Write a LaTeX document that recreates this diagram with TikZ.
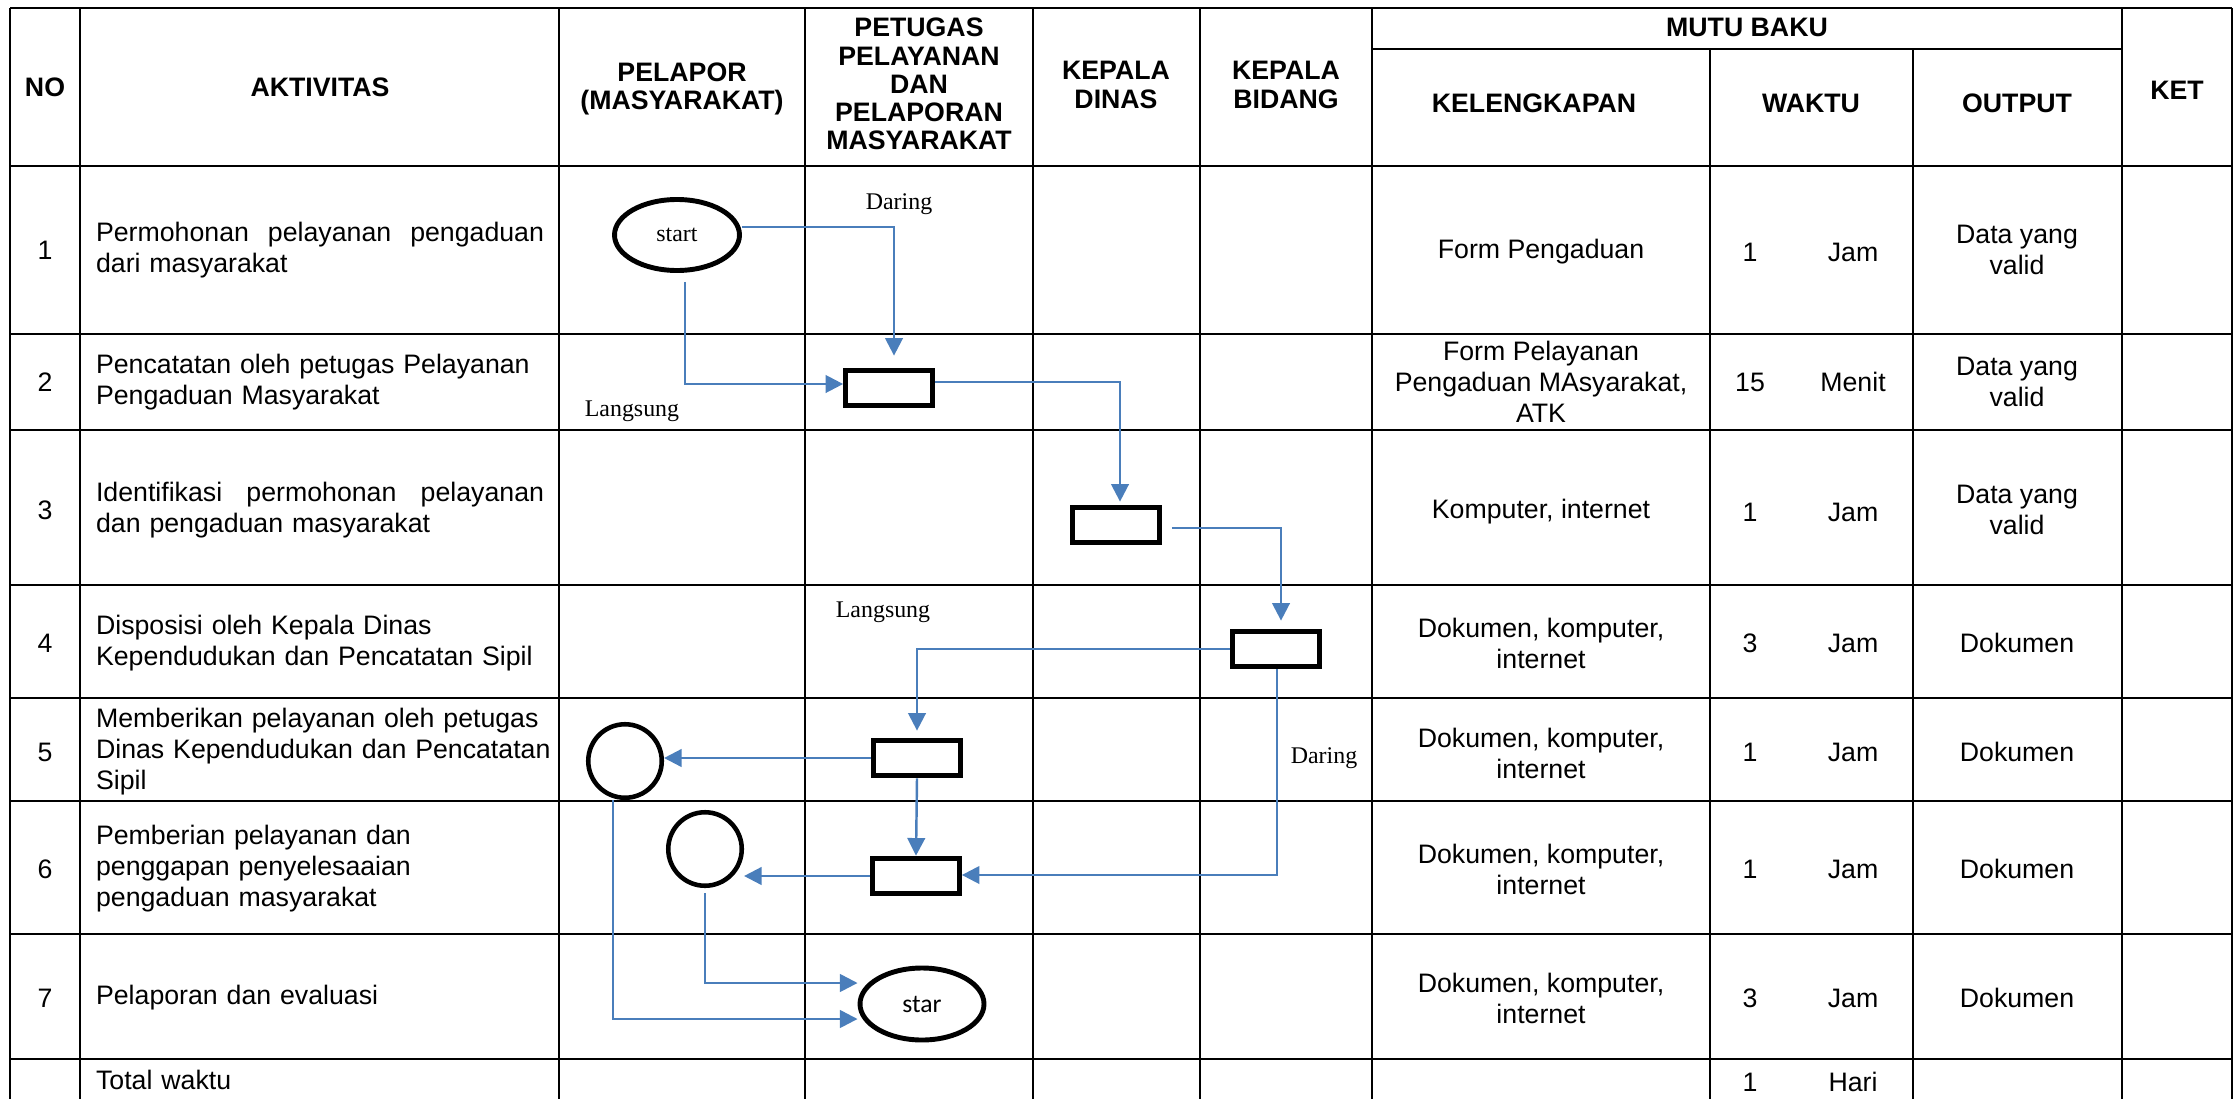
\documentclass[tikz,border=0pt]{standalone}
\usepackage{fontspec}
\setmainfont{Liberation Sans}
\newfontfamily\serifface{Liberation Serif}
\newfontfamily\calibface{Carlito}
\usepackage{tikz}
\usetikzlibrary{positioning, shapes, arrows.meta, calc}

\definecolor{flowblue}{RGB}{74,126,187}

\begin{document}
\begin{tikzpicture}[x=0.1mm, y=-0.1mm, ->, >={Triangle[length=5pt,width=5pt]}, semithick,
  grid/.style={-, draw=black, line width=0.65pt},
  hdr/.style={font=\fontsize{7.6}{8}\selectfont\bfseries, align=center, inner sep=0pt},
  cell/.style={font=\fontsize{7.6}{8.8}\selectfont, align=center, inner sep=0pt},
  akt/.style={cell, anchor=west, align=left, text width=47mm},
  act/.style={draw, rectangle, line width=1.5pt, minimum width=8.65mm, minimum height=3.55mm, inner sep=0pt},
  term/.style={draw, ellipse, line width=1.4pt, inner sep=0pt},
  pers/.style={draw, circle, line width=1.3pt, minimum size=7.35mm, inner sep=0pt},
  lbl/.style={font=\serifface\fontsize{6.8}{8}\selectfont, inner sep=0pt},
  flow/.style={color=flowblue, line width=0.7pt},
  hv/.style={to path={-| (\tikztotarget)}},
  vh/.style={to path={|- (\tikztotarget)}},
]
  \useasboundingbox (0,0) rectangle (2236,1099);

  %% table rules
  \draw[grid] (10,8) -- (2232,8)
    (1372,49) -- (2122,49)
    (10,166) -- (2232,166)
    (10,334) -- (2232,334)
    (10,430) -- (2232,430)
    (10,585) -- (2232,585)
    (10,698) -- (2232,698)
    (10,801) -- (2232,801)
    (10,934) -- (2232,934)
    (10,1059) -- (2232,1059);
  \draw[grid] (10,8) -- (10,1099)
    (80,8) -- (80,1099)
    (559,8) -- (559,1099)
    (805,8) -- (805,1099)
    (1033,8) -- (1033,1099)
    (1200,8) -- (1200,1099)
    (1372,8) -- (1372,1099)
    (1710,49) -- (1710,1099)
    (1913,49) -- (1913,1099)
    (2122,8) -- (2122,1099)
    (2232,8) -- (2232,1099);

  %% header
  \node[hdr] (hno) at (45,87) {NO};
  \node[hdr] (hakt) at (320,87) {AKTIVITAS};
  \node[hdr] (hpel) at (682,89) {PELAPOR\\(MASYARAKAT)};
  \node[hdr] (hpet) at (919,84) {PETUGAS\\PELAYANAN\\DAN\\PELAPORAN\\MASYARAKAT};
  \node[hdr] (hkd) at (1116,85) {KEPALA\\DINAS};
  \node[hdr] (hkb) at (1286,85) {KEPALA\\BIDANG};
  \node[hdr] (hmutu) at (1747,27) {MUTU BAKU};
  \node[hdr] (hkel) at (1534,103) {KELENGKAPAN};
  \node[hdr] (hwkt) at (1811,103) {WAKTU};
  \node[hdr] (hout) at (2017,103) {OUTPUT};
  \node[hdr] (hket) at (2177,90) {KET};

  %% numbers
  \node[cell] (no1) at (45,250) {1};
  \node[cell] (no2) at (45,382) {2};
  \node[cell] (no3) at (45,510) {3};
  \node[cell] (no4) at (45,643) {4};
  \node[cell] (no5) at (45,752) {5};
  \node[cell] (no6) at (45,869) {6};
  \node[cell] (no7) at (45,998) {7};

  %% activities
  \node[akt] (akt1) at (95,250) {\hbox to 44.8mm{Permohonan\hfill pelayanan\hfill pengaduan}\\dari masyarakat};
  \node[akt] (akt2) at (95,382) {Pencatatan oleh petugas Pelayanan\\Pengaduan Masyarakat};
  \node[akt] (akt3) at (95,510) {\hbox to 44.8mm{Identifikasi\hfill permohonan\hfill pelayanan}\\dan pengaduan masyarakat};
  \node[akt] (akt4) at (95,643) {Disposisi oleh Kepala Dinas\\Kependudukan dan Pencatatan Sipil};
  \node[akt] (akt5) at (95,752) {Memberikan pelayanan oleh petugas\\Dinas Kependudukan dan Pencatatan\\Sipil};
  \node[akt] (akt6) at (95,869) {Pemberian pelayanan dan\\penggapan penyelesaaian\\pengaduan masyarakat};
  \node[akt] (akt7) at (95,998) {Pelaporan dan evaluasi};
  \node[akt] (aktt) at (95,1080) {Total waktu};

  %% kelengkapan
  \node[cell] (kel1) at (1541,252) {Form Pengaduan};
  \node[cell] (kel2) at (1541,382) {Form Pelayanan\\Pengaduan MAsyarakat,\\ATK};
  \node[cell] (kel3) at (1541,512) {Komputer, internet};
  \node[cell] (kel4) at (1541,643) {Dokumen, komputer,\\internet};
  \node[cell] (kel5) at (1541,753) {Dokumen, komputer,\\internet};
  \node[cell] (kel6) at (1541,869) {Dokumen, komputer,\\internet};
  \node[cell] (kel7) at (1541,998) {Dokumen, komputer,\\internet};

  %% waktu
  \node[cell] (wn1) at (1750,252) {1};   \node[cell] (wu1) at (1853,252) {Jam};
  \node[cell] (wn2) at (1750,382) {15};  \node[cell] (wu2) at (1853,382) {Menit};
  \node[cell] (wn3) at (1750,512) {1};   \node[cell] (wu3) at (1853,512) {Jam};
  \node[cell] (wn4) at (1750,643) {3};   \node[cell] (wu4) at (1853,643) {Jam};
  \node[cell] (wn5) at (1750,752) {1};   \node[cell] (wu5) at (1853,752) {Jam};
  \node[cell] (wn6) at (1750,869) {1};   \node[cell] (wu6) at (1853,869) {Jam};
  \node[cell] (wn7) at (1750,998) {3};   \node[cell] (wu7) at (1853,998) {Jam};
  \node[cell] (wnt) at (1750,1082) {1};  \node[cell] (wut) at (1853,1082) {Hari};

  %% output
  \node[cell] (out1) at (2017,250) {Data yang\\valid};
  \node[cell] (out2) at (2017,382) {Data yang\\valid};
  \node[cell] (out3) at (2017,510) {Data yang\\valid};
  \node[cell] (out4) at (2017,643) {Dokumen};
  \node[cell] (out5) at (2017,752) {Dokumen};
  \node[cell] (out6) at (2017,869) {Dokumen};
  \node[cell] (out7) at (2017,998) {Dokumen};

  %% flow symbols
  \node[term, minimum width=12.5mm, minimum height=7.1mm, font=\serifface\fontsize{6.8}{8}\selectfont] (start) at (677,235) {start};
  \node[act] (catat) at (889,388) {};
  \node[act] (ident) at (1116,525) {};
  \node[act] (dispo) at (1276,649) {};
  \node[act] (layan) at (917,758) {};
  \node[act] (tangg) at (916,876) {};
  \node[pers] (lapor5) at (625,761) {};
  \node[pers] (lapor6) at (705,849) {};
  \node[term, minimum width=12.4mm, minimum height=7.2mm, font=\calibface\fontsize{7.3}{8}\selectfont] (finish) at (922,1004) {star};

  \node[lbl] (daring1) at (899,204) {Daring};
  \node[lbl] (langsung1) at (632,411) {Langsung};
  \node[lbl] (langsung2) at (883,612) {Langsung};
  \node[lbl] (daring2) at (1324,758) {Daring};

  \path[flow]
    ([yshift=.8mm]start.east) edge[hv, shorten >=1.2mm] ([xshift=.5mm]catat.north)
    ([xshift=.8mm,yshift=-.9mm]start.south) edge[vh] ([yshift=.4mm]catat.west)
    ([yshift=.6mm]catat.east) edge[hv, shorten >=.3mm] ([xshift=.4mm]ident.north)
    ([xshift=1mm,yshift=-.3mm]ident.east) edge[hv, shorten >=.8mm] ([xshift=.5mm]dispo.north)
    (dispo.west) edge[hv, shorten >=.7mm] (layan.north)
    ([xshift=.1mm]dispo.south) edge[vh] ([yshift=.1mm]tangg.east)
    (layan.west) edge (layan.west -| lapor5.east)
    (layan.south) edge (tangg.north)
    (tangg.west) edge (tangg.west -| lapor6.east)
    ([xshift=-1.2mm]lapor5.south) edge[vh] ([yshift=-1.5mm]finish.west)
    ([yshift=-.5mm]lapor6.south) edge[vh] ([yshift=2.1mm]finish.west);
\end{tikzpicture}
\end{document}
